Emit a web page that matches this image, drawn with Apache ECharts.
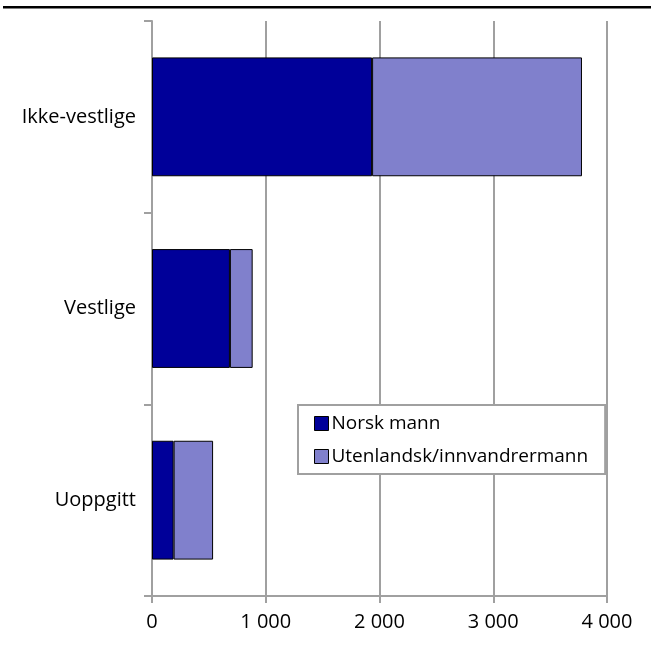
<!DOCTYPE html>
<html>
<head>
<meta charset="utf-8">
<script src="https://cdn.jsdelivr.net/npm/echarts@6/dist/echarts.min.js"></script>
<style>
html,body{margin:0;padding:0;background:#fff;}
#chart{width:651px;height:650px;}
</style>
</head>
<body>
<div id="chart"></div>
<script>
const categories = ['Ikke-vestlige', 'Vestlige', 'Uoppgitt'];
const norskMann = [1935, 685, 190];
const utenlandskMann = [1845, 200, 347];
const xTicks = [0, 1000, 2000, 3000, 4000];

const FONT = '"Open Sans", "Noto Sans", sans-serif';
const chart = echarts.init(document.getElementById('chart'), null, {renderer: 'canvas'});
const fmt = v => String(v).replace(/\B(?=(\d{3})+(?!\d))/g, ' ');

chart.setOption({
  animation: false,
  backgroundColor: '#fff',
  textStyle: {fontFamily: FONT},
  graphic: [{
    type: 'rect',
    shape: {x: 3, y: 6, width: 648, height: 2.5},
    style: {fill: '#000'}
  }],
  grid: {left: 152, right: 44, top: 21, bottom: 54, containLabel: false},
  legend: {
    orient: 'vertical',
    left: 298,
    top: 405,
    padding: [9, 17, 8, 16],
    itemGap: 14,
    itemWidth: 14,
    itemHeight: 14,
    borderColor: '#a0a0a0',
    borderWidth: 2,
    borderRadius: 0,
    backgroundColor: '#fff',
    textStyle: {fontFamily: FONT, fontSize: 19, lineHeight: 16, color: '#000', padding: [0, 0, 0, -2]},
    data: [
      {name: 'Norsk mann', icon: 'rect', itemStyle: {borderColor: '#000', borderWidth: 1}},
      {name: 'Utenlandsk/innvandrermann', icon: 'rect', itemStyle: {borderColor: '#000', borderWidth: 1}}
    ]
  },
  xAxis: {
    type: 'value',
    min: 0, max: 4000, interval: 1000,
    axisLine: {show: true, lineStyle: {color: '#a0a0a0', width: 2}},
    axisTick: {show: true, inside: false, length: 7, lineStyle: {color: '#a0a0a0', width: 2}},
    splitLine: {show: true, lineStyle: {color: '#a0a0a0', width: 2}},
    axisLabel: {
      formatter: v => fmt(v),
      fontFamily: FONT, fontSize: 20, color: '#000', margin: 16
    }
  },
  yAxis: {
    type: 'category',
    inverse: true,
    data: categories,
    axisLine: {show: true, lineStyle: {color: '#a0a0a0', width: 2}},
    axisTick: {show: true, inside: false, length: 8, lineStyle: {color: '#a0a0a0', width: 2}},
    axisLabel: {fontFamily: FONT, fontSize: 20, color: '#000', margin: 16}
  },
  series: [
    {
      name: 'Norsk mann', type: 'bar', stack: 'total', data: norskMann,
      barWidth: '62%',
      itemStyle: {color: '#000099', borderColor: '#000', borderWidth: 1}
    },
    {
      name: 'Utenlandsk/innvandrermann', type: 'bar', stack: 'total', data: utenlandskMann,
      barWidth: '62%',
      itemStyle: {color: '#8080cc', borderColor: '#000', borderWidth: 1}
    }
  ]
});
</script>
</body>
</html>
